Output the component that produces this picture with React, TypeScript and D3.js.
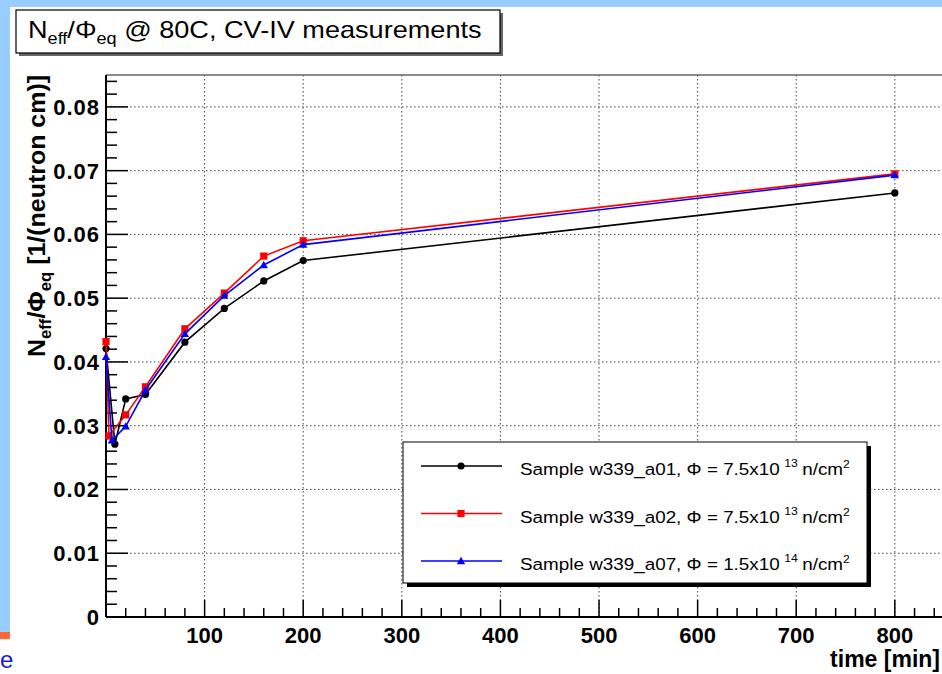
import React from "react";
import * as d3 from "d3";

const tBlack = [0, 9, 20, 40, 80, 120, 160, 200, 800];
const vBlack = [0.0421, 0.0271, 0.0342, 0.0349, 0.0431, 0.0484, 0.0527, 0.0559, 0.0665];
const tRed = [0, 3, 20, 40, 80, 120, 160, 200, 800];
const vRed = [0.0432, 0.0284, 0.0317, 0.0361, 0.0452, 0.0508, 0.0566, 0.059, 0.0695];
const tBlue = [0, 6, 20, 40, 80, 120, 160, 200, 800];
const vBlue = [0.0408, 0.0277, 0.0299, 0.0356, 0.0444, 0.0504, 0.0552, 0.0584, 0.0693];

const xTicks = [100, 200, 300, 400, 500, 600, 700, 800];
const yTicks = [0, 0.01, 0.02, 0.03, 0.04, 0.05, 0.06, 0.07, 0.08];
const yTickLabels = ["0", "0.01", "0.02", "0.03", "0.04", "0.05", "0.06", "0.07", "0.08"];

const legendNames = ["Sample w339_a01, ", "Sample w339_a02, ", "Sample w339_a07, "];
const legendMant = ["7.5x10", "7.5x10", "1.5x10"];
const legendExp = ["13", "13", "14"];

const W = 942, H = 674;
const FONT = "'Liberation Sans', Arial, Helvetica, sans-serif";

export default function App() {
  const x = d3.scaleLinear().domain([0, 860]).range([106, 954]);
  const y = d3.scaleLinear().domain([0, 0.085]).range([617, 75]);
  const xMinor = d3.range(0, 861, 20);
  const yMinor = d3.range(0, 0.0851, 0.002);
  const line = d3.line<[number, number]>().x(d => x(d[0])).y(d => y(d[1]));

  const series = [
    { t: tBlack, v: vBlack, color: "#000000", marker: "circle" },
    { t: tRed, v: vRed, color: "#ff0000", marker: "square" },
    { t: tBlue, v: vBlue, color: "#0000ff", marker: "triangle" },
  ];

  const marker = (kind: string, cx: number, cy: number, color: string, key: any) => {
    if (kind === "circle") return <circle key={key} cx={cx} cy={cy} r={3.6} fill={color} />;
    if (kind === "square") return <rect key={key} x={cx - 3.6} y={cy - 3.6} width={7.2} height={7.2} fill={color} />;
    const s = 4.2;
    return <path key={key} d={`M${cx},${cy - s} L${cx + s},${cy + s * 0.75} L${cx - s},${cy + s * 0.75} Z`} fill={color} />;
  };

  const frameLeft = 106, frameTop = 75, frameBottom = 617, frameRight = 954;

  return (
    <svg width={W} height={H} style={{ position: "absolute", left: 0, top: 0 }} fontFamily={FONT}>
      <rect x={0} y={0} width={W} height={H} fill="#ffffff" />
      {/* canvas strips */}
      <rect x={0} y={0} width={W} height={7} fill="#99ccff" />
      <rect x={0} y={0} width={10} height={632} fill="#99ccff" />
      <rect x={0} y={632} width={10} height={7} fill="#ff6633" />
      <text x={0} y={668} fontSize={24} fill="#1a1acc" fontFamily={FONT}>e</text>

      {/* title box */}
      <rect x={19} y={13} width={484} height={43} fill="#666" />
      <rect x={16} y={10} width={484} height={43} fill="#fff" stroke="#000" strokeWidth={1.2} />
      <g transform="translate(28,38) scale(1.13,1)">
        <text x={0} y={0} fontSize={24} fill="#000">
          N<tspan fontSize={16} dy={6}>eff</tspan>
          <tspan dy={-6}>/Φ</tspan>
          <tspan fontSize={16} dy={6}>eq</tspan>
          <tspan dy={-6}> @ 80C, CV-IV measurements</tspan>
        </text>
      </g>

      {/* grid */}
      {xTicks.map(t => (
        <line key={"gx" + t} x1={x(t)} x2={x(t)} y1={frameTop} y2={frameBottom} stroke="#444" strokeWidth={1} strokeDasharray="1.5,2.5" />
      ))}
      {yTicks.filter(v => v > 0).map(v => (
        <line key={"gy" + v} x1={frameLeft} x2={frameRight} y1={y(v)} y2={y(v)} stroke="#444" strokeWidth={1} strokeDasharray="1.5,2.5" />
      ))}

      {/* frame top */}
      <line x1={frameLeft} x2={frameRight} y1={frameTop} y2={frameTop} stroke="#666" strokeWidth={1.5} />

      {/* ticks */}
      {xMinor.map(t => {
        const major = t % 100 === 0;
        return <line key={"tx" + t} x1={x(t)} x2={x(t)} y1={frameBottom} y2={frameBottom - (major ? 17 : 9)} stroke="#000" strokeWidth={1.5} />;
      })}
      {yMinor.map((v, i) => {
        const major = i % 5 === 0;
        return <line key={"ty" + i} x1={frameLeft} x2={frameLeft + (major ? 22 : 11)} y1={y(v)} y2={y(v)} stroke="#000" strokeWidth={1.5} />;
      })}

      {/* axes */}
      <line x1={frameLeft} x2={frameRight} y1={frameBottom} y2={frameBottom} stroke="#000" strokeWidth={2} />
      <line x1={frameLeft} x2={frameLeft} y1={frameTop} y2={frameBottom} stroke="#000" strokeWidth={2} />

      {/* tick labels */}
      {xTicks.map(t => (
        <text key={"lx" + t} x={x(t)} y={643} fontSize={22} fontWeight="bold" textAnchor="middle">{t}</text>
      ))}
      {yTicks.map((v, i) => (
        <text key={"ly" + i} x={100} y={y(v) + 8} fontSize={22} fontWeight="bold" textAnchor="end" letterSpacing={1}>{yTickLabels[i]}</text>
      ))}

      {/* axis titles */}
      <text x={940} y={667} fontSize={23} fontWeight="bold" textAnchor="end">time [min]</text>
      <g transform="translate(45,75) rotate(-90) scale(1.04,1)">
        <text x={0} y={0} fontSize={24} fontWeight="bold" textAnchor="end">
          N<tspan fontSize={16} dy={6}>eff</tspan>
          <tspan dy={-6}>/Φ</tspan>
          <tspan fontSize={16} dy={6}>eq</tspan>
          <tspan dy={-6}> [1/(neutron cm)]</tspan>
        </text>
      </g>

      {/* series */}
      {series.map((s, si) => {
        const pts: [number, number][] = s.t.map((t, i) => [t, s.v[i]]);
        return (
          <g key={"s" + si}>
            <path d={line(pts) || ""} fill="none" stroke={s.color} strokeWidth={1.6} />
            {pts.map((p, i) => marker(s.marker, x(p[0]), y(p[1]), s.color, i))}
          </g>
        );
      })}

      {/* legend */}
      <rect x={407} y={446} width={464} height={141} fill="#000" />
      <rect x={403} y={442} width={464} height={141} fill="#fff" stroke="#000" strokeWidth={1} />
      {series.map((s, i) => {
        const ly = 466 + i * 47.5;
        return (
          <g key={"lg" + i}>
            <line x1={421} x2={502} y1={ly} y2={ly} stroke={s.color} strokeWidth={1.6} />
            {marker(s.marker, 461, ly, s.color, "m")}
            <g transform={`translate(520,${ly + 9}) scale(1.11,1)`}>
              <text x={0} y={0} fontSize={17} fill="#000">
                {legendNames[i]}Φ = {legendMant[i]}
                <tspan dx={4} dy={-8} fontSize={11}>{legendExp[i]}</tspan>
                <tspan dx={4} dy={8}>n/cm</tspan>
                <tspan dy={-7} fontSize={11}>2</tspan>
              </text>
            </g>
          </g>
        );
      })}
    </svg>
  );
}
